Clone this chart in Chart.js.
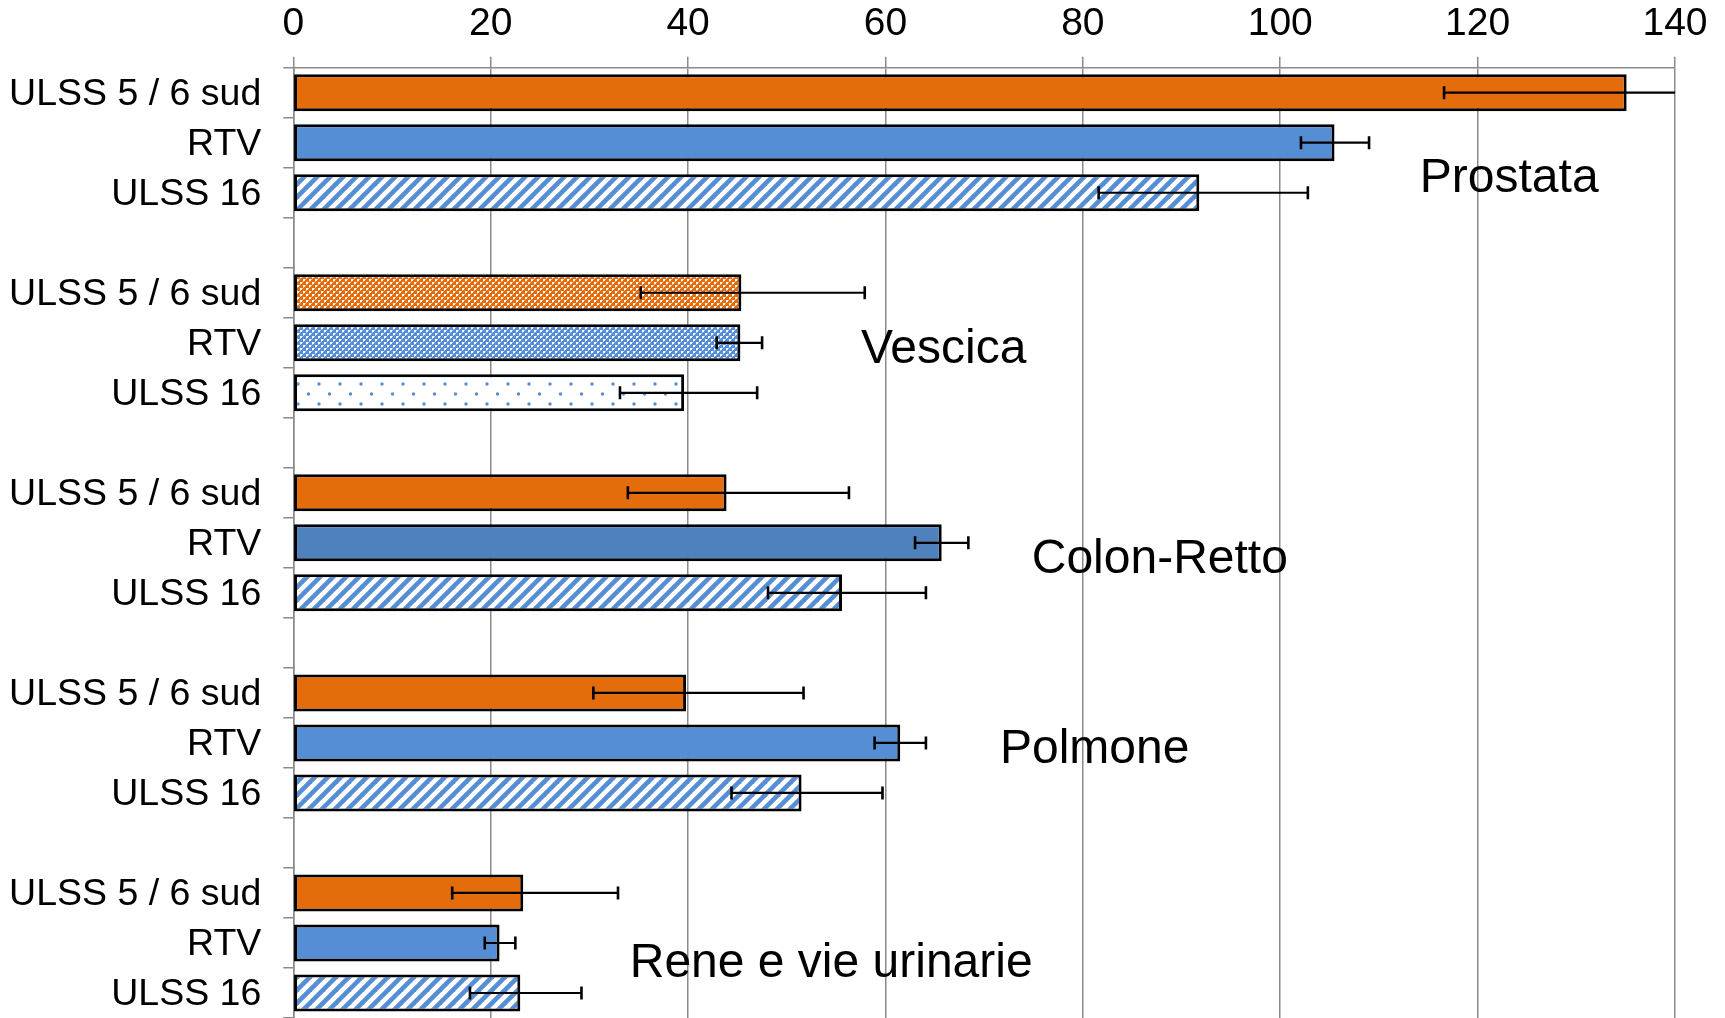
<!DOCTYPE html>
<html>
<head>
<meta charset="utf-8">
<title>Tassi di incidenza per sede</title>
<script src="https://cdn.jsdelivr.net/npm/chart.js@4/dist/chart.umd.min.js"></script>
<style>
  html, body { margin: 0; padding: 0; background: #fff; }
  #wrap { width: 1725px; height: 1018px; }
</style>
</head>
<body>
<div id="wrap"><canvas id="c" width="1725" height="1018"></canvas></div>
<script>
// Sites and areas compared
const sites = ['Prostata', 'Vescica', 'Colon-Retto', 'Polmone', 'Rene e vie urinarie'];
const areas = ['ULSS 5 / 6 sud', 'RTV', 'ULSS 16'];

// Rates per site, in the order of `areas`
const rates = [
  [135.1, 105.5, 91.8],
  [45.4, 45.3, 39.6],
  [43.9, 65.7, 55.6],
  [39.8, 61.5, 51.5],
  [23.3, 20.9, 23.0]
];
// Confidence interval bounds
const ciLow = [
  [116.6, 102.1, 81.6],
  [35.2, 42.9, 33.1],
  [33.9, 63.0, 48.1],
  [30.4, 58.9, 44.4],
  [16.1, 19.4, 17.9]
];
const ciHigh = [
  [154.0, 109.0, 102.8],
  [57.9, 47.5, 47.0],
  [56.3, 68.4, 64.1],
  [51.7, 64.1, 59.7],
  [32.9, 22.5, 29.2]
];

// Value axis ticks
const xTicks = [0, 20, 40, 60, 80, 100, 120, 140];

// Fill used for each bar
const fillKind = [
  ['orange', 'blue', 'stripes'],
  ['orangeGrid', 'blueGrid', 'dots'],
  ['orange', 'blueDark', 'stripes'],
  ['orange', 'blue', 'stripes'],
  ['orange', 'blue', 'stripes']
];

// Where each site name is written: [axis value, row index]
const siteLabelAt = [[123.2, 1.73], [65.9, 5.14], [87.8, 9.33], [81.2, 13.14], [54.5, 17.41]];

const ORANGE = '#E46C0A';
const BLUE = '#558ED5';
const BLUE_DARK = '#4F81BD';

function tile(w, h, paint) {
  const c = document.createElement('canvas');
  c.width = w; c.height = h;
  const g = c.getContext('2d');
  paint(g, w, h);
  return document.getElementById('c').getContext('2d').createPattern(c, 'repeat');
}

function gridTile(color) {
  return tile(6, 6, (g) => {
    g.fillStyle = color; g.fillRect(0, 0, 6, 6);
    g.fillStyle = 'rgba(255,255,255,1)';
    g.fillRect(0, 0, 2, 2); g.fillRect(3, 3, 2, 2);
    g.fillStyle = 'rgba(255,255,255,0.55)';
    g.fillRect(2, 0, 1, 1); g.fillRect(0, 2, 1, 1); g.fillRect(5, 3, 1, 1); g.fillRect(3, 5, 1, 1);
  });
}

const fills = {
  orange: ORANGE,
  blue: BLUE,
  blueDark: BLUE_DARK,
  stripes: tile(13, 13, (g) => {
    g.fillStyle = '#fff'; g.fillRect(0, 0, 13, 13);
    g.strokeStyle = BLUE; g.lineWidth = 4.6; g.lineCap = 'square';
    [0, 13, 26].forEach(k => {
      g.beginPath(); g.moveTo(k - 15, 15); g.lineTo(k + 2, -2); g.stroke();
    });
  }),
  orangeGrid: gridTile(ORANGE),
  blueGrid: gridTile(BLUE),
  dots: tile(21, 20, (g) => {
    g.fillStyle = '#fff'; g.fillRect(0, 0, 21, 20);
    g.fillStyle = BLUE;
    [[4, 4], [14.5, 14]].forEach(([x, y]) => {
      g.beginPath(); g.arc(x, y, 1.7, 0, Math.PI * 2); g.fill();
    });
  })
};

// Flatten into rows, with an empty row between sites
const labels = [], values = [], lows = [], highs = [], colors = [];
sites.forEach((s, i) => {
  if (i > 0) { labels.push(''); values.push(null); lows.push(null); highs.push(null); colors.push('rgba(0,0,0,0)'); }
  areas.forEach((a, j) => {
    labels.push(a);
    values.push(rates[i][j]);
    lows.push(ciLow[i][j]);
    highs.push(ciHigh[i][j]);
    colors.push(fills[fillKind[i][j]]);
  });
});

const errorBars = {
  id: 'errorBars',
  afterDatasetsDraw(chart) {
    const { ctx, chartArea: a, scales: { x, y } } = chart;
    ctx.save();
    ctx.beginPath(); ctx.rect(a.left, a.top, a.right - a.left, a.bottom - a.top); ctx.clip();
    ctx.strokeStyle = '#000';
    lows.forEach((lo, i) => {
      if (lo == null) return;
      const cy = y.getPixelForValue(i);
      const x1 = x.getPixelForValue(lo), x2 = x.getPixelForValue(highs[i]);
      ctx.lineWidth = 2.2;
      ctx.beginPath(); ctx.moveTo(x1, cy); ctx.lineTo(x2, cy); ctx.stroke();
      ctx.lineWidth = 2.6;
      [x1, x2].forEach(px => { ctx.beginPath(); ctx.moveTo(px, cy - 6.5); ctx.lineTo(px, cy + 6.5); ctx.stroke(); });
    });
    ctx.restore();
  }
};

const siteNames = {
  id: 'siteNames',
  afterDraw(chart) {
    const { ctx, scales: { x, y } } = chart;
    ctx.save();
    ctx.fillStyle = '#000';
    ctx.font = "48px 'Liberation Sans', Arial, sans-serif";
    ctx.textAlign = 'center';
    ctx.textBaseline = 'middle';
    sites.forEach((s, i) => {
      const [v, r] = siteLabelAt[i];
      ctx.fillText(s, x.getPixelForValue(v), y.getPixelForValue(r));
    });
    ctx.restore();
  }
};

Chart.defaults.font.family = "'Liberation Sans', Arial, sans-serif";
Chart.defaults.color = '#000';

new Chart(document.getElementById('c'), {
  type: 'bar',
  data: {
    labels,
    datasets: [{
      data: values,
      backgroundColor: colors,
      borderColor: '#000',
      borderWidth: 3,
      borderSkipped: false,
      barPercentage: 0.74,
      categoryPercentage: 1
    }]
  },
  options: {
    indexAxis: 'y',
    responsive: false,
    animation: false,
    devicePixelRatio: 1,
    events: [],
    layout: { padding: { left: 0, right: 50, top: 0, bottom: 0 } },
    plugins: { legend: { display: false }, tooltip: { enabled: false } },
    scales: {
      x: {
        position: 'top',
        min: xTicks[0],
        max: xTicks[xTicks.length - 1],
        afterBuildTicks: (s) => { s.ticks = xTicks.map(v => ({ value: v })); },
        ticks: { font: { size: 39 }, padding: 9, maxRotation: 0 },
        grid: { color: '#8a8a8a', lineWidth: 1.5, tickLength: 11 },
        border: { display: true, color: '#8a8a8a', width: 1.5 },
        afterFit: (s) => { s.height = 67.7; s.paddingLeft = 0; s.paddingRight = 0; }
      },
      y: {
        ticks: { font: { size: 37.5 }, padding: 22, autoSkip: false, labelOffset: 2 },
        grid: { offset: true, drawOnChartArea: false, tickLength: 10, color: '#8a8a8a', lineWidth: 1.5 },
        border: { display: true, color: '#8a8a8a', width: 1.5 },
        afterFit: (s) => { s.width = 293.3; s.paddingTop = 0; s.paddingBottom = 0; }
      }
    }
  },
  plugins: [errorBars, siteNames]
});
</script>
</body>
</html>
